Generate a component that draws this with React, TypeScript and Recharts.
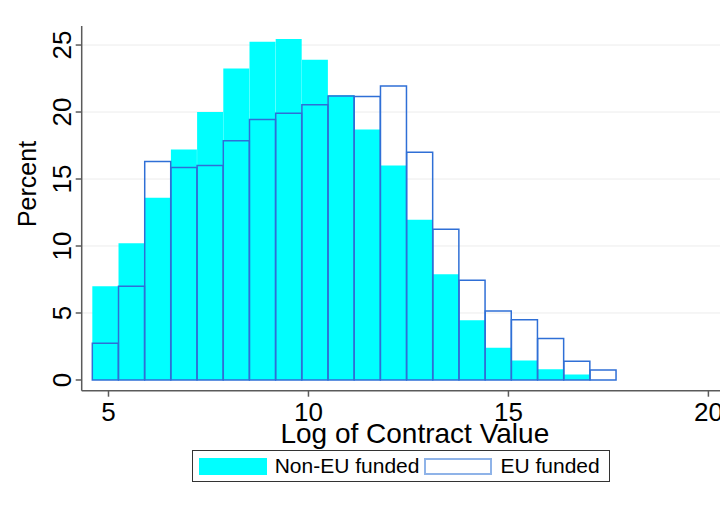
import {
	Bar,
	CartesianGrid,
	ComposedChart,
	Label,
	Legend,
	XAxis,
	YAxis,
} from 'recharts';

// bin centres of the histogram (log of contract value)
const binCenters = [
	4.923, 5.578, 6.233, 6.888, 7.543, 8.198, 8.853, 9.508, 10.163, 10.818,
	11.473, 12.128, 12.783, 13.438, 14.093, 14.748, 15.403, 16.058, 16.713,
	17.368,
];
const nonEuFunded = [
	7.0, 10.2, 13.6, 17.2, 20.0, 23.25, 25.25, 25.45, 23.9, 21.25, 18.7, 16.0,
	11.95, 7.9, 4.45, 2.4, 1.45, 0.8, 0.4, 0,
];
const euFunded = [
	2.75, 7.0, 16.3, 15.85, 16.0, 17.85, 19.45, 19.9, 20.55, 21.2, 21.15, 21.95,
	17.0, 11.25, 7.45, 5.15, 4.5, 3.1, 1.4, 0.75,
];
const xTicks = [5, 10, 15, 20];
const yTicks = [0, 5, 10, 15, 20, 25];

const data = binCenters.map((x, i) => ({
	x,
	nonEu: nonEuFunded[i],
	eu: euFunded[i],
}));

const FONT = '"Liberation Sans", Arial, sans-serif';
const CYAN = '#00ffff';
const EU_BLUE = '#2f6fd6';

const XTick = ({ x, y, payload }: any) => (
	<text
		x={x}
		y={y}
		dy={18.6}
		textAnchor="middle"
		fontSize={26}
		fontFamily={FONT}
		fill="#000"
	>
		{payload.value}
	</text>
);

const YTick = ({ x, y, payload }: any) => (
	<text
		x={x}
		y={y}
		transform={`rotate(-90 ${x} ${y})`}
		textAnchor="middle"
		fontSize={26}
		fontFamily={FONT}
		fill="#000"
	>
		{payload.value}
	</text>
);

const LegendBox = () => (
	<div
		style={{
			display: 'flex',
			alignItems: 'center',
			boxSizing: 'border-box',
			width: 418,
			height: 32,
			border: '1.5px solid #333',
			paddingLeft: 6,
			fontFamily: FONT,
			fontSize: 21,
			color: '#000',
			background: '#fff',
		}}
	>
		<span style={{ width: 68, height: 17, background: CYAN }} />
		<span style={{ marginLeft: 8 }}>Non-EU funded</span>
		<span
			style={{
				marginLeft: 5,
				width: 68,
				height: 17,
				boxSizing: 'border-box',
				border: '2px solid #8fb3e8',
				background: '#fff',
			}}
		/>
		<span style={{ marginLeft: 8 }}>EU funded</span>
	</div>
);

export default function App() {
	return (
		<div style={{ width: 720, marginTop: -1, borderTop: '1px solid #eeeeee' }}>
			<ComposedChart
				width={720}
				height={500}
				data={data}
				barCategoryGap={0}
				barGap={0}
				margin={{ top: 18, right: 8, left: 0, bottom: 87.3 }}
			>
				<CartesianGrid
					vertical={false}
					stroke="#ececec"
					horizontalValues={[5, 10, 15, 20, 25]}
				/>
				<XAxis
					dataKey="x"
					type="number"
					domain={[4.33, 20.29]}
					allowDataOverflow
					ticks={xTicks}
					tick={<XTick />}
					tickSize={6}
					tickMargin={6}
					height={30}
					stroke="#5a5a5a"
					strokeWidth={1.5}
				>
					<Label
						value="Log of Contract Value"
						position="bottom"
						offset={2}
						dx={14}
						fontSize={28}
						fontFamily={FONT}
						fill="#000"
					/>
				</XAxis>
				<XAxis
					xAxisId="eu"
					dataKey="x"
					type="number"
					domain={[4.33, 20.29]}
					allowDataOverflow
					hide
				/>
				<YAxis
					type="number"
					domain={[-0.8, 26.42]}
					allowDataOverflow
					ticks={yTicks}
					tick={<YTick />}
					tickSize={6}
					tickMargin={5}
					width={73.7}
					stroke="#5a5a5a"
					strokeWidth={1.5}
				>
					<Label
						content={({ viewBox }: any) => {
							const lx = viewBox.x + 28;
							const ly = viewBox.y + 158;
							return (
								<text
									x={lx}
									y={ly}
									transform={`rotate(-90 ${lx} ${ly})`}
									textAnchor="middle"
									fontSize={25}
									fontFamily={FONT}
									fill="#000"
								>
									Percent
								</text>
							);
						}}
					/>
				</YAxis>
				<Legend
					layout="horizontal"
					align="center"
					verticalAlign="middle"
					content={<LegendBox />}
					wrapperStyle={{ left: 183.7, top: 442, width: 'auto' }}
				/>
				<Bar
					dataKey="nonEu"
					name="Non-EU funded"
					fill={CYAN}
					isAnimationActive={false}
				/>
				<Bar
					xAxisId="eu"
					dataKey="eu"
					name="EU funded"
					fill="none"
					stroke={EU_BLUE}
					strokeWidth={1.5}
					isAnimationActive={false}
				/>
			</ComposedChart>
		</div>
	);
}
